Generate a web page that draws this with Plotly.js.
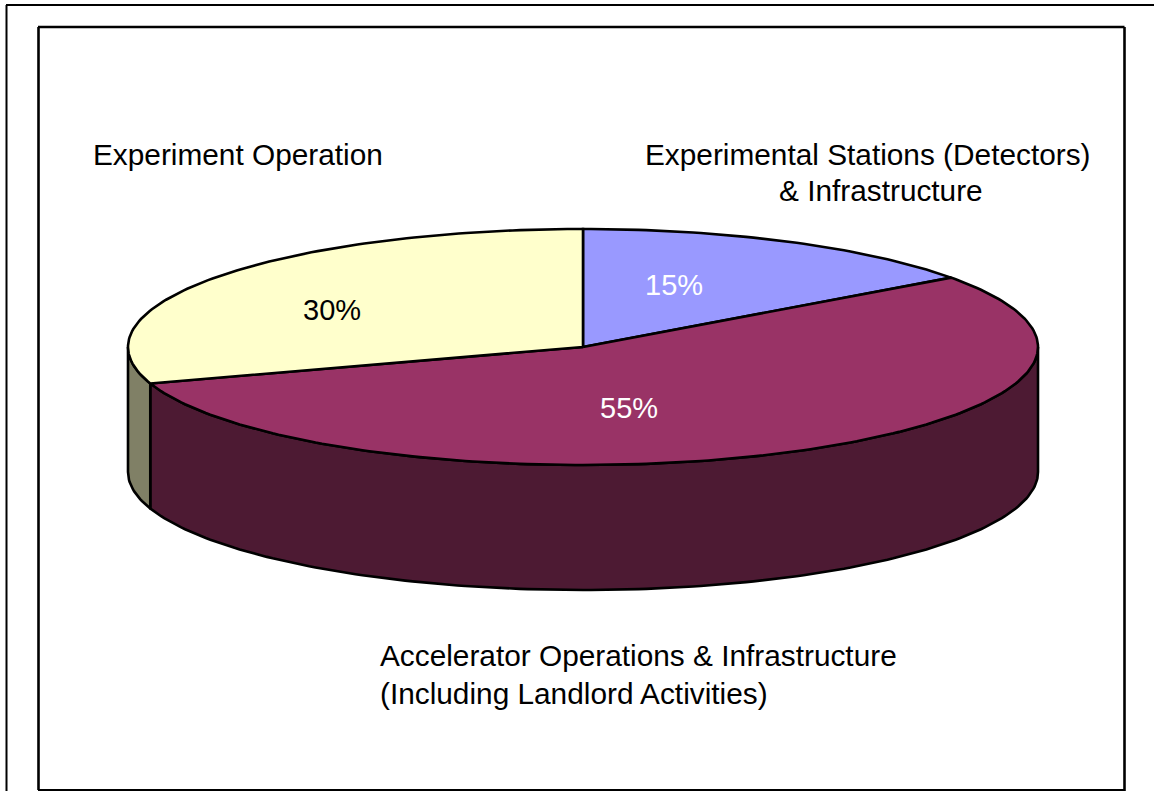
<!DOCTYPE html>
<html>
<head>
<meta charset="utf-8">
<script src="https://cdn.plot.ly/plotly-3.0.1.min.js"></script>
<style>html,body{margin:0;padding:0;background:#fff;overflow:hidden}#chart{width:1154px;height:791px}</style>
</head>
<body>
<div id="chart"></div>
<script>
// Data, clockwise from 12 o'clock
var categories = ["Experimental Stations (Detectors) & Infrastructure",
                  "Accelerator Operations & Infrastructure (Including Landlord Activities)",
                  "Experiment Operation"];
var shares = [15, 55, 30];
var topColors = ["#9999ff", "#993366", "#ffffcc"];
var sideColors = ["#4d4d80", "#4d1a33", "#808066"];

// Tilted-disc geometry in axis units
var cx = 583, cy = 347, rx = 455, ry = 118, depth = 125;

function pt(deg, dy) {
  var a = deg * Math.PI / 180;
  return [cx + rx * Math.sin(a), cy - ry * Math.cos(a) + (dy || 0)];
}
function arc(a0, a1, dy) {
  var out = [], n = Math.max(2, Math.ceil(Math.abs(a1 - a0)));
  for (var i = 0; i <= n; i++) out.push(pt(a0 + (a1 - a0) * i / n, dy));
  return out;
}
function polyTrace(points, fill) {
  return {
    type: "scatter", mode: "lines", hoverinfo: "skip", showlegend: false,
    x: points.map(function (p) { return p[0]; }),
    y: points.map(function (p) { return p[1]; }),
    fill: "toself", fillcolor: fill,
    line: { color: "#000", width: 2.6, shape: "linear" }
  };
}

var total = shares.reduce(function (a, b) { return a + b; }, 0);
var walls = [], tops = [], cum = 0;
shares.forEach(function (v, i) {
  var a0 = cum / total * 360, a1 = (cum + v) / total * 360;
  cum += v;
  // Visible wall: the front half of the rim (90deg..270deg)
  var w0 = Math.max(a0, 90), w1 = Math.min(a1, 270);
  if (w1 > w0) {
    walls.push(polyTrace(arc(w0, w1, 0).concat(arc(w1, w0, depth)).concat([pt(w0, 0)]), sideColors[i]));
  }
  tops.push(polyTrace([[cx, cy]].concat(arc(a0, a1, 0)).concat([[cx, cy]]), topColors[i]));
});

var pctPos = [[674, 285], [629, 408], [332, 310]];
var pctColor = ["#ffffff", "#ffffff", "#000000"];
var annotations = shares.map(function (v, i) {
  return { x: pctPos[i][0], y: pctPos[i][1], text: v + "%", showarrow: false,
           font: { color: pctColor[i], size: 29 }, xanchor: "center", yanchor: "middle" };
});
var catLines = [
  { t: "Experiment Operation", x: 91, y: 154, a: "left" },
  { t: "Experimental Stations (Detectors)", x: 867, y: 154, a: "center" },
  { t: "& Infrastructure", x: 881, y: 190, a: "center" },
  { t: "Accelerator Operations & Infrastructure", x: 378, y: 655, a: "left" },
  { t: "(Including Landlord Activities)", x: 378, y: 693, a: "left" }
];
catLines.forEach(function (c) {
  annotations.push({ x: c.x, y: c.y, text: c.t.replace(/&/g, "&amp;"), showarrow: false,
                     xanchor: c.a, yanchor: "middle" });
});

function seg(x0, y0, x1, y1, w) {
  return { type: "line", x0: x0, y0: y0, x1: x1, y1: y1, layer: "below", line: { color: "#000", width: w } };
}
var layout = {
  width: 1154, height: 791, margin: { l: 0, r: 0, t: 0, b: 0, pad: 0 },
  paper_bgcolor: "#fff", plot_bgcolor: "#fff",
  font: { family: "Liberation Sans, Arial, sans-serif", size: 29.8, color: "#000" },
  xaxis: { range: [0, 1154], visible: false, fixedrange: true },
  yaxis: { range: [791, 0], visible: false, fixedrange: true },
  showlegend: false, hovermode: false,
  annotations: annotations,
  shapes: [
    seg(6.5, 5, 6.5, 791, 2), seg(6, 5, 1154, 5, 2),
    seg(38.5, 27, 38.5, 790, 2.6), seg(38, 27, 1124.5, 27, 2.6),
    seg(1124.5, 27, 1124.5, 791, 2.6), seg(38, 790, 1125, 790, 2)
  ]
};
Plotly.newPlot("chart", walls.concat(tops), layout, { displayModeBar: false, staticPlot: true });
</script>
</body>
</html>
